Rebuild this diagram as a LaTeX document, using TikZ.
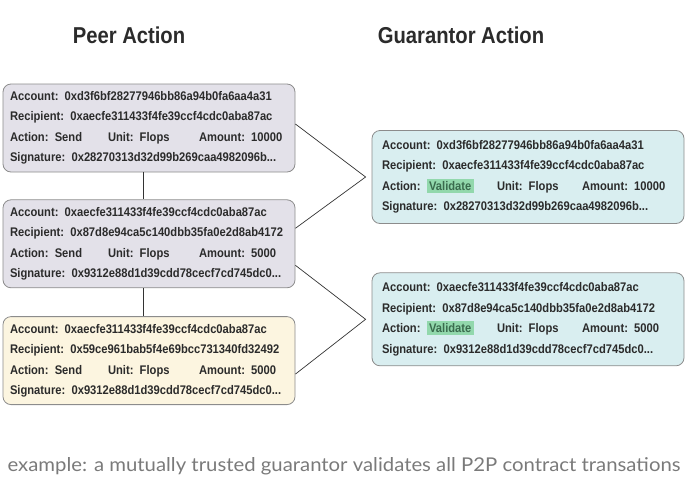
\documentclass[tikz,border=0pt]{standalone}
\usepackage{fontspec}
\usepackage{tikz}
\usetikzlibrary{positioning}
\newfontfamily\condfont{Liberation Sans Bold}[FakeStretch=0.895]
\newfontfamily\headfont{Liberation Sans Bold}[FakeStretch=0.88]
\newfontfamily\notefont{Lato}[FakeStretch=1.07]
\definecolor{peerFill}{HTML}{E3E1E9}
\definecolor{sendFill}{HTML}{FCF5E0}
\definecolor{guarFill}{HTML}{D9EEF0}
\definecolor{edgeGray}{HTML}{8C8C8C}
\definecolor{inkGray}{HTML}{2B2B2B}
\definecolor{lineGray}{HTML}{333333}
\definecolor{noteGray}{HTML}{7A7A7A}
\definecolor{validGreen}{HTML}{92D8AC}
\definecolor{validInk}{HTML}{3A6B4D}
\newcommand{\validtag}{{\setlength{\fboxsep}{2.3pt}\colorbox{validGreen}{\textcolor{validInk}{Validate}}}}

\begin{document}
\begin{tikzpicture}[
  x=1pt, y=-1pt,
  every node/.style={text=inkGray},
  txbox/.style={draw=edgeGray, line width=0.8pt, rounded corners=8pt, align=left,
    font=\condfont\fontsize{12.5}{20.5}\selectfont, inner ysep=0pt},
  peer/.style={txbox, fill=peerFill, inner xsep=7pt, text width=278pt, minimum height=88pt},
  sent/.style={peer, fill=sendFill},
  guar/.style={txbox, fill=guarFill, inner xsep=10pt, text width=292pt, minimum height=93pt},
  title/.style={font=\headfont\fontsize{23}{25}\selectfont},
  link/.style={draw=lineGray, line width=0.7pt}
]
\useasboundingbox (0,0) rectangle (698,501);

% column titles
\node[title] (peerTitle) at (129,35) {Peer Action};
\node[title] (guarTitle) at (461,35) {Guarantor Action};

% peer side
\node[peer] (peer1) at (149,128) {Account: 0xd3f6bf28277946bb86a94b0fa6aa4a31\\
  Recipient: 0xaecfe311433f4fe39ccf4cdc0aba87ac\\
  \makebox[98pt][l]{Action: Send}\makebox[91pt][l]{Unit: Flops}Amount: 10000\\
  Signature: 0x28270313d32d99b269caa4982096b...};
\node[peer, below=27pt of peer1] (peer2) {Account: 0xaecfe311433f4fe39ccf4cdc0aba87ac\\
  Recipient: 0x87d8e94ca5c140dbb35fa0e2d8ab4172\\
  \makebox[98pt][l]{Action: Send}\makebox[91pt][l]{Unit: Flops}Amount: 5000\\
  Signature: 0x9312e88d1d39cdd78cecf7cd745dc0...};
\node[sent, below=28pt of peer2] (peer3) {Account: 0xaecfe311433f4fe39ccf4cdc0aba87ac\\
  Recipient: 0x59ce961bab5f4e69bcc731340fd32492\\
  \makebox[98pt][l]{Action: Send}\makebox[91pt][l]{Unit: Flops}Amount: 5000\\
  Signature: 0x9312e88d1d39cdd78cecf7cd745dc0...};

% guarantor side
\node[guar] (guar1) at (528,177) {Account: 0xd3f6bf28277946bb86a94b0fa6aa4a31\\
  Recipient: 0xaecfe311433f4fe39ccf4cdc0aba87ac\\
  \makebox[115pt][l]{Action: \validtag}\makebox[85pt][l]{Unit: Flops}Amount: 10000\\
  Signature: 0x28270313d32d99b269caa4982096b...};
\node[guar, below=48.5pt of guar1] (guar2) {Account: 0xaecfe311433f4fe39ccf4cdc0aba87ac\\
  Recipient: 0x87d8e94ca5c140dbb35fa0e2d8ab4172\\
  \makebox[115pt][l]{Action: \validtag}\makebox[85pt][l]{Unit: Flops}Amount: 5000\\
  Signature: 0x9312e88d1d39cdd78cecf7cd745dc0...};

\coordinate (meet1) at ([xshift=-6pt]guar1.west);
\coordinate (meet2) at ([xshift=-6pt]guar2.west);

% links
\draw[link] ([xshift=-6pt]peer1.south) -- ([xshift=-6pt]peer2.north);
\draw[link] ([xshift=-6pt]peer2.south) -- ([xshift=-6pt]peer3.north);
\draw[link] ([yshift=4pt]peer1.east) -- (meet1) -- ([yshift=15.5pt]peer2.east);
\draw[link] ([yshift=-21.5pt]peer2.east) -- (meet2) -- ([yshift=-13.5pt]peer3.east);

\node[font=\notefont\fontsize{19}{21}\selectfont, text=noteGray] (note) at (344,466)
  {example: a mutually trusted guarantor validates all P2P contract transations};
\end{tikzpicture}
\end{document}
